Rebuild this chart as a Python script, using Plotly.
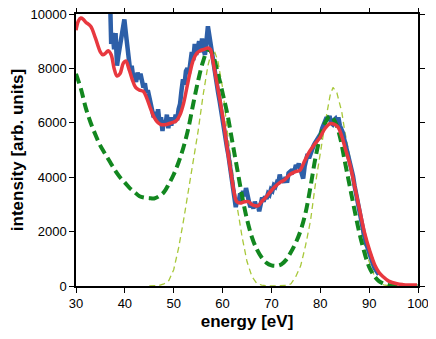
import plotly.graph_objects as go

# measured spectrum (noisy)
blue_e = [37.0, 37.2, 37.5, 37.8, 38.1, 38.4, 38.7, 39.0, 39.3, 39.6, 39.9, 40.2, 40.5, 40.8, 41.1, 41.4, 41.7, 42.0,
          42.3, 42.6, 42.9, 43.2, 43.5, 43.8, 44.1, 44.4, 44.7, 45.0, 45.3, 45.6, 45.9, 46.2, 46.5, 46.8, 47.1, 47.4,
          47.7, 48.0, 48.3, 48.6, 48.9, 49.2, 49.5, 49.8, 50.1, 50.4, 50.7, 51.0, 51.3, 51.6, 51.9, 52.2, 52.5, 52.8,
          53.1, 53.4, 53.7, 54.0, 54.3, 54.6, 54.9, 55.2, 55.5, 55.8, 56.1, 56.4, 56.7, 57.0, 57.3, 57.6, 57.9, 58.2,
          58.5, 58.8, 59.1, 59.4, 59.7, 60.0, 60.3, 60.6, 60.9, 61.2, 61.5, 61.8, 62.1, 62.4, 62.7, 63.0, 63.3, 63.6,
          63.9, 64.2, 64.5, 64.8, 65.1, 65.4, 65.7, 66.0, 66.3, 66.6, 66.9, 67.2, 67.5, 67.8, 68.1, 68.4, 68.7, 69.0,
          69.3, 69.6, 69.9, 70.2, 70.5, 70.8, 71.1, 71.4, 71.7, 72.0, 72.3, 72.6, 72.9, 73.2, 73.5, 73.8, 74.1, 74.4,
          74.7, 75.0, 75.3, 75.6, 75.9, 76.2, 76.5, 76.8, 77.1, 77.4, 77.7, 78.0, 78.3, 78.6, 78.9, 79.2, 79.5, 79.8,
          80.1, 80.4, 80.7, 81.0, 81.3, 81.6, 81.9, 82.2, 82.5, 82.8, 83.1, 83.4, 83.7, 84.0, 84.3, 84.6, 84.9, 85.2,
          85.5, 85.8, 86.1, 86.4, 86.7, 87.0, 87.5, 88.0, 88.5, 89.0, 89.5, 90.0, 90.5, 91.0, 91.5, 92.0]
blue_i = [10400, 8900, 9300, 8700, 9300, 8100, 8500, 8900, 9100, 9500, 9800, 9300, 8700, 8300, 7900, 8100, 7700, 7800,
          7500, 7850, 7600, 7800, 7400, 7300, 7450, 7100, 7200, 6900, 6700, 6500, 6200, 6400, 6100, 6500, 6000, 6200,
          5700, 6100, 5900, 6300, 5800, 6200, 5900, 6200, 6000, 6300, 6100, 6500, 6700, 7200, 7600, 7400, 7900, 8000,
          7800, 8200, 8600, 8300, 8900, 8500, 8800, 9000, 8600, 9100, 8700, 8500, 9000, 9550, 9200, 8800, 8700, 8300,
          7900, 7500, 7100, 6800, 6400, 6100, 5800, 5400, 5100, 4800, 4400, 4000, 3700, 3200, 2900, 3200, 3100, 3400,
          3200, 3500, 3300, 3600, 3200, 3100, 2900, 3000, 2850, 3100, 2900, 3000, 2750, 3000, 3250, 3100, 3300, 3200,
          3400, 3350, 3550, 3500, 3700, 3650, 3800, 3750, 4100, 3850, 3950, 3800, 4000, 3800, 4150, 4200, 4100, 4300,
          4200, 4450, 4350, 4500, 4300, 4000, 3950, 4400, 4700, 4850, 4700, 4900, 5000, 5150, 5250, 5350, 5450, 5500,
          5600, 5800, 5950, 6050, 6200, 6100, 6250, 6000, 5950, 6100, 6150, 6000, 6200, 5900, 5800, 5650, 5400, 5200,
          4950, 4750, 4500, 4300, 4050, 3700, 3200, 2700, 2250, 1850, 1500, 1200, 950, 700, 550, 420]

# smoothed fit
red_e = [30.0, 30.5, 31.0, 31.5, 32.0, 33.0, 34.0, 35.0, 35.5, 36.0, 36.6, 37.2, 37.8, 38.4, 39.0, 39.7, 40.2, 40.8,
         41.5, 42.2, 43.0, 43.8, 44.5, 45.3, 46.0, 46.8, 47.5, 48.5, 49.5, 50.5, 51.3, 52.0, 52.7, 53.4, 54.0, 54.7,
         55.4, 56.2, 57.0, 57.5, 58.0, 58.8, 59.5, 60.3, 61.0, 61.6, 62.3, 62.9, 63.6, 64.5, 65.3, 66.0, 66.7, 67.3,
         68.0, 68.8, 69.7, 70.7, 71.7, 72.7, 73.8, 74.8, 75.8, 76.8, 77.8, 78.8, 79.9, 81.0, 82.0, 82.8, 83.6, 84.4,
         85.2, 86.1, 87.0, 88.1, 89.0, 90.2, 91.2, 92.0, 92.8, 94.0, 95.7, 97.0, 98.0, 99.8]
red_i = [9400, 9750, 9850, 9800, 9700, 9550, 9100, 8600, 8500, 8550, 8650, 8500, 8000, 7720, 7800, 8200, 8270, 8000,
         7600, 7300, 7200, 7150, 6900, 6500, 6200, 6000, 5930, 5940, 6000, 6070, 6300, 6700, 7300, 7900, 8300, 8550,
         8650, 8700, 8750, 8700, 8300, 7500, 6800, 5900, 5000, 4300, 3500, 3100, 3050, 3100, 3100, 3000, 2950, 2950,
         3100, 3250, 3450, 3650, 3800, 3900, 4100, 4200, 4250, 4600, 4950, 5200, 5450, 5800, 5970, 5950, 5850, 5500,
         5000, 4450, 3700, 2760, 2000, 1250, 750, 500, 350, 180, 80, 50, 40, 40]

# broadened model
green_e = [30, 31, 32, 33, 34, 35, 36, 37, 38, 39, 40, 41, 42, 43, 44, 45, 46, 47, 48, 49, 50, 51, 52, 53, 54, 55, 56,
           57, 57.5, 58, 59, 60, 61, 62, 63, 64, 65, 66, 67, 68, 69, 70, 71, 72, 73, 74, 75, 76, 77, 78, 79, 80, 81,
           82, 83, 84, 85, 86, 87, 88, 89, 90, 91, 92, 93, 94, 95, 97, 100]
green_i = [7800, 7250, 6550, 6000, 5550, 5150, 4850, 4550, 4250, 4000, 3800, 3600, 3450, 3300, 3250, 3230, 3220, 3300,
           3450, 3750, 4100, 4550, 5100, 5800, 6700, 7550, 8250, 8700, 8650, 8500, 7850, 7100, 6300, 5300, 4300, 3300,
           2450, 1800, 1350, 1050, 850, 760, 740, 790, 960, 1250, 1600, 2050, 2700, 3650, 4700, 5500, 6000, 6250,
           6050, 5500, 4600, 3700, 2800, 1950, 1250, 700, 380, 180, 80, 30, 10, 0, 0]

# narrow model
yel_e = [45.0, 46.0, 47.0, 48.0, 49.0, 50.0, 51.0, 52.0, 53.0, 54.0, 55.0, 56.0, 57.0, 57.8, 58.2, 59.0, 60.0, 61.0,
         62.0, 63.0, 64.0, 65.0, 66.0, 67.0, 68.0, 70.0, 73.0, 74.0, 75.0, 76.0, 77.0, 78.0, 79.0, 80.0, 81.0, 82.0,
         82.6, 83.4, 84.4, 85.0, 86.1, 87.5, 88.7, 89.5, 90.2, 91.0, 92.0, 93.0, 94.0, 95.0]
yel_i = [0, 0, 20, 80, 200, 600, 1400, 2400, 3500, 4600, 5700, 7000, 8100, 8650, 8700, 8300, 7300, 5650, 4200, 2900,
         1800, 900, 350, 100, 30, 0, 20, 80, 350, 750, 1500, 2400, 3750, 4900, 6000, 7000, 7300, 7100, 6400, 5700,
         4700, 3230, 1770, 1150, 800, 400, 130, 40, 10, 0]

fig = go.Figure()
fig.add_trace(go.Scatter(x=yel_e, y=yel_i, mode="lines",
                         line=dict(color="#a8c83a", width=1.3, dash="6px,4px")))
fig.add_trace(go.Scatter(x=blue_e, y=blue_i, mode="lines",
                         line=dict(color="#2d5fa8", width=4.5)))
fig.add_trace(go.Scatter(x=green_e, y=green_i, mode="lines", line_shape="spline",
                         line=dict(color="#12871f", width=4, dash="10px,5px")))
fig.add_trace(go.Scatter(x=red_e, y=red_i, mode="lines", line_shape="spline",
                         line=dict(color="#e8383f", width=3.5)))

font_name = "Liberation Sans, Arial"
axis_common = dict(showline=True, linecolor="black", linewidth=1.5, mirror="ticks",
                   ticks="outside", ticklen=5, tickwidth=1.3, tickcolor="black",
                   showgrid=False, zeroline=False, automargin=False,
                   ticklabeloverflow="allow",
                   tickfont=dict(family=font_name, size=13, color="black"))

fig.update_xaxes(range=[30, 100], dtick=10, **axis_common,
                 title=dict(text="<b>energy [eV]</b>", standoff=10,
                            font=dict(family=font_name, size=17, color="black")))
fig.update_yaxes(range=[0, 10000], dtick=2000, tickformat="d", **axis_common,
                 title=dict(text="<b>intensity [arb. units]</b>", standoff=6,
                            font=dict(family=font_name, size=17, color="black")))

# page body adds an 8px margin, so the figure is 16px smaller than the window
fig.update_layout(width=420, height=323, showlegend=False,
                  plot_bgcolor="white", paper_bgcolor="white",
                  margin=dict(l=68, r=10, t=6, b=45))

fig.write_html("out.html")
